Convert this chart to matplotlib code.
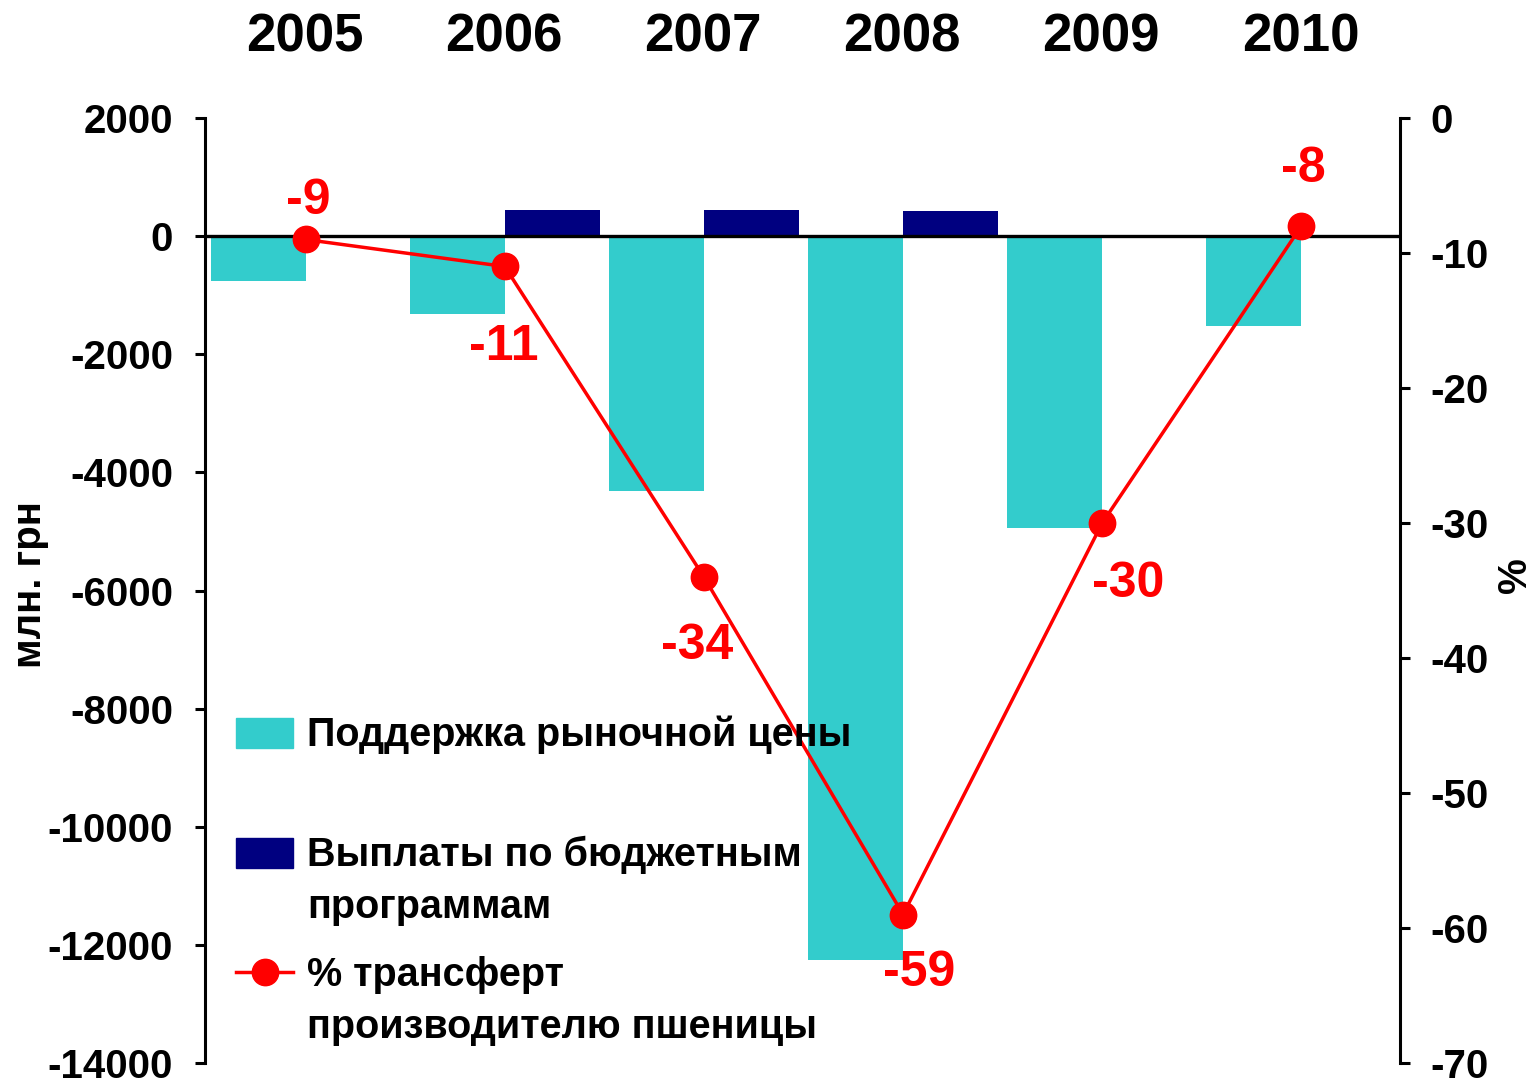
import matplotlib
matplotlib.use("Agg")
import matplotlib.pyplot as plt
import numpy as np
from matplotlib.patches import Rectangle
from matplotlib.lines import Line2D

plt.rcParams['font.family'] = ['Liberation Sans', 'DejaVu Sans']
plt.rcParams['font.weight'] = 'bold'
plt.rcParams['axes.unicode_minus'] = False

years = ['2005', '2006', '2007', '2008', '2009', '2010']
market_support = [-760, -1320, -4320, -12260, -4940, -1520]
budget_payments = [0, 450, 450, 430, 0, 0]
transfer_pct = [-9, -11, -34, -59, -30, -8]
pct_labels = ['-9', '-11', '-34', '-59', '-30', '-8']
# label offsets (points) for each point label
label_offsets = [(3, 28), (0, -58), (-4, -50), (12, -42), (19, -44), (2, 41)]

W, H = 1536, 1081
fig = plt.figure(figsize=(W / 100, H / 100), dpi=100)
ax = fig.add_axes([205 / W, 1 - 1063 / H, 1195 / W, 945 / H])
ax2 = ax.twinx()

x = np.arange(len(years))
w = 0.477
ax.bar(x - w / 2 + 0.005, market_support, width=w, color='#33CCCC', zorder=2)
ax.bar(x + w / 2 + 0.005, budget_payments, width=w, color='#000080', zorder=2)
ax.axhline(0, color='black', lw=2.4, zorder=3)

ax.set_xlim(-0.5, 5.5)
ax.set_ylim(-14000, 2000)
ax.set_yticks(np.arange(-14000, 2001, 2000))
ax.xaxis.tick_top()
ax.set_xticks(x)
ax.set_xticklabels(years, fontsize=38, fontweight='bold')
ax.tick_params(axis='x', length=0, pad=40)
ax.tick_params(axis='y', labelsize=29, width=2.2, length=7, pad=16)
for s in ['top', 'bottom', 'right']:
    ax.spines[s].set_visible(False)
ax.spines['left'].set_linewidth(2.2)

ax2.plot(x + 0.005, transfer_pct, color='#FF0000', lw=2.5, marker='o',
         markersize=19, zorder=5)
for xi, yi, lab, off in zip(x, transfer_pct, pct_labels, label_offsets):
    ax2.annotate(lab, (xi, yi), xytext=off, textcoords='offset points',
                 ha='center', va='center', color='#FF0000', fontsize=36,
                 fontweight='bold')
ax2.set_ylim(-70, 0)
ax2.set_yticks(np.arange(-70, 1, 10))
ax2.tick_params(axis='y', labelsize=29, width=2.2, length=7, pad=15)
for s in ['top', 'bottom', 'left']:
    ax2.spines[s].set_visible(False)
ax2.spines['right'].set_linewidth(2.2)

fig.text(30 / W, 1 - 585 / H, 'млн. грн', rotation=90, ha='center', va='center',
         fontsize=29, fontweight='bold')
fig.text(1515 / W, 1 - 575 / H, '%', rotation=90, ha='center', va='center',
         fontsize=29, fontweight='bold')

# legend, drawn by hand so the handles line up with the first text line
fig.add_artist(Rectangle((236 / W, 1 - 748 / H), 57 / W, 30 / H,
                         transform=fig.transFigure, color='#33CCCC', zorder=1))
fig.add_artist(Rectangle((236 / W, 1 - 868 / H), 57 / W, 30 / H,
                         transform=fig.transFigure, color='#000080', zorder=1))
fig.add_artist(Line2D([236 / W, 293 / W], [1 - 972 / H, 1 - 972 / H],
                      transform=fig.transFigure, color='#FF0000', lw=2.5, zorder=1))
fig.add_artist(Line2D([264.5 / W], [1 - 972 / H], transform=fig.transFigure,
                      color='#FF0000', marker='o', markersize=19, zorder=1))
leg_text = [('Поддержка рыночной цены', 735),
            ('Выплаты по бюджетным', 855), ('программам', 907),
            ('% трансферт', 975), ('производителю пшеницы', 1027)]
for t, yy in leg_text:
    fig.text(307 / W, 1 - yy / H, t, ha='left', va='center', fontsize=28.5,
             fontweight='bold', zorder=1)

fig.savefig('out.png', dpi=100)
